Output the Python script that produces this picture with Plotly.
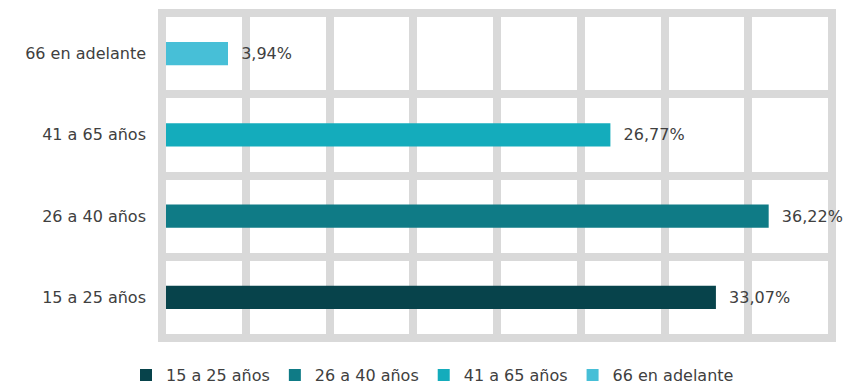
import plotly.graph_objects as go

categories = ["15 a 25 años", "26 a 40 años", "41 a 65 años", "66 en adelante"]
values = [33.07, 36.22, 26.77, 3.94]
labels = ["33,07%", "36,22%", "26,77%", "3,94%"]
colors = ["#07434b", "#0f7b86", "#14acbc", "#47bfd7"]

grey = "#d9d9d9"
txt = "#404040"

fig = go.Figure()
for cat, val, lab, col in zip(categories, values, labels, colors):
    fig.add_trace(go.Bar(
        y=[cat], x=[val], name=cat, orientation="h",
        marker=dict(color=col, line=dict(width=0)),
        text=["\u00a0\u00a0" + lab], textposition="outside", cliponaxis=False,
        textfont=dict(size=16, color=txt),
        width=0.285,
    ))

# outer frame of the grid (left side drawn over the bars' start)
fig.add_shape(type="rect", xref="paper", yref="paper", x0=0, x1=1, y0=0, y1=1,
              line=dict(color=grey, width=8), layer="below")
fig.add_shape(type="line", xref="paper", yref="paper", x0=0, x1=0, y0=0, y1=1,
              line=dict(color=grey, width=8), layer="above")

fig.update_layout(
    width=846, height=385,
    margin=dict(l=162, r=14, t=13, b=47, autoexpand=False),
    paper_bgcolor="white", plot_bgcolor="white",
    barmode="overlay",
    font=dict(family="DejaVu Sans", size=16, color=txt),
    showlegend=True,
    legend=dict(orientation="h", x=(126 - 162) / 670, xanchor="left",
                y=-0.062, yanchor="top",
                font=dict(size=16, color=txt), traceorder="normal"),
    xaxis=dict(range=[0, 40], dtick=5, showticklabels=False, showgrid=True,
               gridcolor=grey, gridwidth=8, zeroline=False, showline=False),
    yaxis=dict(categoryorder="array", categoryarray=categories, tickson="boundaries",
               showgrid=True, gridcolor=grey, gridwidth=8, ticks="",
               ticklabelstandoff=15, showline=False, zeroline=False,
               tickfont=dict(size=16, color=txt)),
)

fig.write_html("out.html", config={"displayModeBar": False},
               post_script="document.body.style.margin='0';")
